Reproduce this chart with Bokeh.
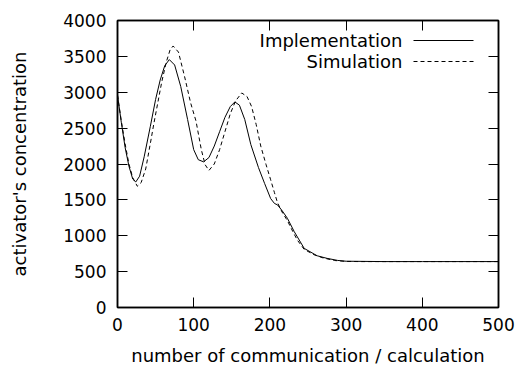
from bokeh.plotting import figure
from bokeh.models import Range1d, LinearAxis, FixedTicker, Label, Arrow
from bokeh.embed import file_html
from bokeh.resources import INLINE

# ---- data ----
impl_x = [0, 5, 10, 15, 20, 24, 29, 35, 43, 50, 56, 62, 68, 75, 83, 92, 100, 106,
          113, 120, 127, 134, 141, 148, 154, 160, 167, 175, 185, 193, 201, 206, 210,
          216, 223, 232, 245, 262, 275, 289, 300, 350, 400, 450, 500]
impl_y = [2960, 2580, 2230, 1970, 1790, 1750, 1830, 2100, 2520, 2900, 3170, 3370, 3455,
          3380, 3080, 2620, 2200, 2060, 2030, 2090, 2250, 2450, 2650, 2800, 2865, 2820,
          2620, 2270, 1950, 1730, 1518, 1450, 1430, 1350, 1243, 1056, 824, 721, 685, 656,
          645, 640, 640, 640, 640]

sim_x = [0, 5, 10, 15, 20, 26, 31, 37, 43, 48, 53, 58, 64, 69, 73, 80, 88, 96, 103, 110,
         115, 120, 127, 134, 141, 148, 155, 163, 170, 176, 182, 188, 195, 201, 206, 210,
         216, 223, 230, 236, 245, 258, 270, 285, 300, 320, 400, 500]
sim_y = [2960, 2600, 2280, 2000, 1810, 1690, 1740, 1930, 2280, 2580, 2860, 3140, 3420,
         3590, 3645, 3560, 3220, 2850, 2600, 2200, 1990, 1910, 2000, 2200, 2450, 2700,
         2880, 2990, 2940, 2800, 2550, 2250, 1990, 1780, 1600, 1460, 1330, 1210, 1060,
         940, 810, 735, 690, 655, 642, 640, 640, 640]

x_ticks = [0, 100, 200, 300, 400, 500]
y_ticks = [0, 500, 1000, 1500, 2000, 2500, 3000, 3500, 4000]
legend_names = ["Implementation", "Simulation"]
legend_dash = ["solid", "4 3"]

FONT = "DejaVu Sans"

p = figure(width=520, height=369, output_backend="svg", toolbar_location=None,
           x_range=Range1d(0, 500), y_range=Range1d(0, 4000),
           min_border_left=117, min_border_right=22, min_border_top=20,
           min_border_bottom=62)
p.xgrid.visible = False
p.ygrid.visible = False
p.background_fill_color = "white"
p.border_fill_color = "white"
p.outline_line_color = "black"
p.outline_line_width = 1.5

p.line(impl_x, impl_y, line_color="black", line_width=1)
p.line(sim_x, sim_y, line_color="black", line_width=1, line_dash="4 3")


def style(ax, ticks, show_labels):
    ax.ticker = FixedTicker(ticks=ticks)
    ax.major_tick_in = 10
    ax.major_tick_out = 0
    ax.minor_tick_in = 0
    ax.minor_tick_out = 0
    ax.major_tick_line_color = "black"
    ax.major_tick_line_width = 1
    ax.axis_line_color = "black"
    ax.axis_line_width = 1.5
    if show_labels:
        ax.major_label_text_font = FONT
        ax.major_label_text_font_size = "17px"
        ax.major_label_text_color = "black"
        ax.axis_label_text_font = FONT
        ax.axis_label_text_font_size = "18px"
        ax.axis_label_text_font_style = "normal"
        ax.axis_label_text_color = "black"
    else:
        # mirror axis: ticks only, labels not drawn
        ax.major_label_text_color = None
        ax.major_label_text_alpha = 0
        ax.major_label_text_font_size = "1px"
        ax.major_label_standoff = 0


xa = p.xaxis[0]
ya = p.yaxis[0]
style(xa, x_ticks, True)
style(ya, y_ticks, True)
xa.axis_label = "number of communication / calculation"
ya.axis_label = "activator's concentration"
xa.major_label_standoff = 10
xa.axis_label_standoff = 11
ya.major_label_standoff = 11
ya.axis_label_standoff = 30

top = LinearAxis()
style(top, x_ticks, False)
p.add_layout(top, "above")
right = LinearAxis()
style(right, y_ticks, False)
p.add_layout(right, "right")

# legend (text right-aligned, sample line on the right, as in the reference)
for i, (name, dash) in enumerate(zip(legend_names, legend_dash)):
    ys = 267 - 21 * i
    p.add_layout(Label(x=285, y=ys, x_units="screen", y_units="screen", text=name,
                       text_align="right", text_baseline="middle",
                       text_font=FONT, text_font_size="18px", text_color="black"))
    p.add_layout(Arrow(end=None, x_start=296, y_start=ys, x_end=356, y_end=ys,
                       start_units="screen", end_units="screen",
                       line_color="black", line_width=1, line_dash=dash))

open("out.html", "w").write(file_html(p, INLINE))
